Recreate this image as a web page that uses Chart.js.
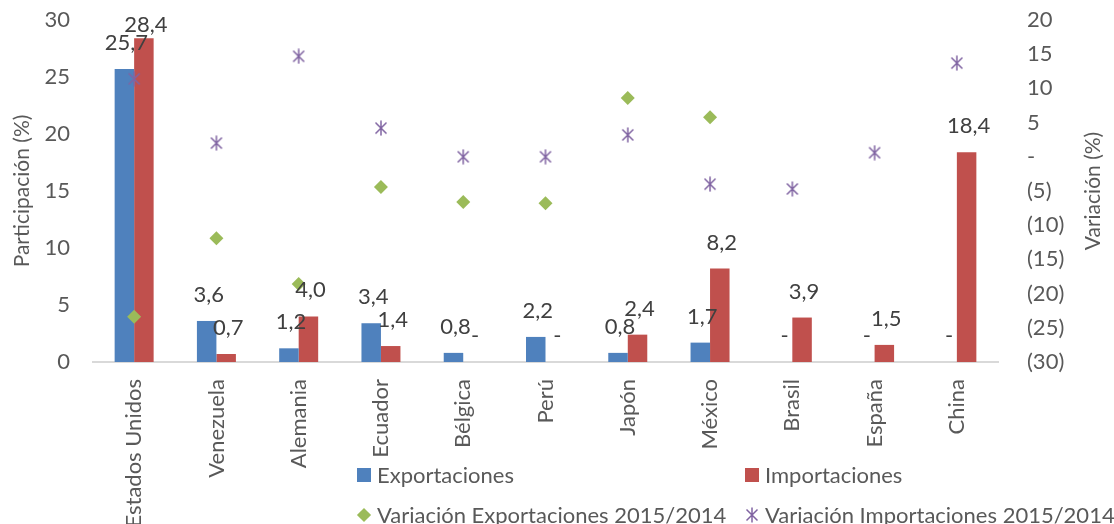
<!DOCTYPE html>
<html>
<head>
<meta charset="utf-8">
<script src="https://cdn.jsdelivr.net/npm/chart.js@4"></script>
<style>
  body { margin: 0; background: #fff; }
  #wrap { position: relative; width: 1114px; height: 524px; overflow: hidden; }
  .leg { position: absolute; height: 24px; display: flex; align-items: center; font-family: Lato, sans-serif; font-size: 22px; color: #595959; white-space: nowrap; line-height: 22px; }
  .leg .mk { display: inline-block; flex: none; margin-right: 6px; }
</style>
</head>
<body>
<div id="wrap">
  <canvas id="grafico" width="1114" height="524"></canvas>
</div>
<script>
const categorias = ['Estados Unidos', 'Venezuela', 'Alemania', 'Ecuador', 'Bélgica', 'Perú', 'Japón', 'México', 'Brasil', 'España', 'China'];
const exportaciones = [25.7, 3.6, 1.2, 3.4, 0.8, 2.2, 0.8, 1.7, 0, 0, 0];
const importaciones = [28.4, 0.7, 4.0, 1.4, 0, 0, 2.4, 8.2, 3.9, 1.5, 18.4];
const varExportaciones = [-23.4, -11.9, -18.6, -4.4, -6.6, -6.8, 8.6, 5.8, null, null, null];
const varImportaciones = [11.4, 2.0, 14.7, 4.2, 0.0, 0.0, 3.2, -4.0, -4.7, 0.6, 13.7];

const azul = '#4F81BD', rojo = '#C0504D', verde = '#9BBB59', morado = '#8064A2';
const fuente = 'Lato, sans-serif';

// asterisco sin brazo horizontal, como el marcador de Excel
function estrella() {
    const c = document.createElement('canvas');
    c.width = 14; c.height = 16;
    const g = c.getContext('2d');
    g.strokeStyle = morado;
    g.lineWidth = 1.5;
    g.beginPath();
    g.moveTo(7, 0.5); g.lineTo(7, 15.5);
    g.moveTo(1.5, 2.5); g.lineTo(12.5, 13.5);
    g.moveTo(12.5, 2.5); g.lineTo(1.5, 13.5);
    g.stroke();
    return c;
}

function fmtBarra(v) {
    return v === 0 ? '-' : v.toFixed(1).replace('.', ',');
}

const etiquetas = {
    id: 'etiquetas',
    afterDatasetsDraw(chart) {
        const ctx = chart.ctx;
        ctx.save();
        ctx.font = '22px ' + fuente;
        ctx.fillStyle = '#404040';
        ctx.textAlign = 'center';
        ctx.textBaseline = 'middle';
        chart.data.datasets.forEach((ds, i) => {
            if (ds.type !== 'bar') return;
            chart.getDatasetMeta(i).data.forEach((bar, j) => {
                let y = Math.max(bar.y - 26, 25);
                ctx.fillText(fmtBarra(ds.data[j]), bar.x + 2, y);
            });
        });
        ctx.restore();
    }
};

// titulo del eje derecho, leido de abajo hacia arriba
const tituloDerecho = {
    id: 'tituloDerecho',
    afterDraw(chart) {
        const a = chart.chartArea, ctx = chart.ctx;
        ctx.save();
        ctx.translate(1093, (a.top + a.bottom) / 2);
        ctx.rotate(-Math.PI / 2);
        ctx.font = '21px ' + fuente;
        ctx.fillStyle = '#595959';
        ctx.textAlign = 'center';
        ctx.textBaseline = 'middle';
        ctx.fillText('Variación (%)', 0, 0);
        ctx.restore();
    }
};

const ctx = document.getElementById('grafico').getContext('2d');
const grafico = new Chart(ctx, {
    data: {
        labels: categorias,
        datasets: [
            {type: 'bar', label: 'Exportaciones', data: exportaciones, backgroundColor: azul, yAxisID: 'y', order: 2,
             categoryPercentage: 0.474, barPercentage: 1},
            {type: 'bar', label: 'Importaciones', data: importaciones, backgroundColor: rojo, yAxisID: 'y', order: 2,
             categoryPercentage: 0.474, barPercentage: 1},
            {type: 'line', label: 'Variación Exportaciones 2015/2014', data: varExportaciones, yAxisID: 'y2', order: 0,
             showLine: false, pointStyle: 'rectRot', pointRadius: 7, pointHoverRadius: 7,
             backgroundColor: verde, borderColor: verde, pointBorderWidth: 0},
            {type: 'line', label: 'Variación Importaciones 2015/2014', data: varImportaciones, yAxisID: 'y2', order: 0,
             showLine: false, pointStyle: estrella(), pointRadius: 7,
             backgroundColor: morado, borderColor: morado}
        ]
    },
    options: {
        responsive: false,
        animation: false,
        layout: {autoPadding: false, padding: {top: 20, left: 0, right: 0, bottom: 0}},
        plugins: {legend: {display: false}, tooltip: {enabled: false}},
        scales: {
            x: {
                grid: {display: false},
                border: {display: true, color: '#D9D9D9', width: 2},
                ticks: {color: '#595959', font: {family: fuente, size: 22}, minRotation: 90, maxRotation: 90,
                        autoSkip: false, padding: 9},
                afterFit: s => { s.height = 162; }
            },
            y: {
                position: 'left', min: 0, max: 30,
                grid: {display: false, drawTicks: false},
                border: {display: false},
                ticks: {stepSize: 5, color: '#595959', font: {family: fuente, size: 22}, padding: 23},
                title: {display: true, text: 'Participación (%)', color: '#595959',
                        font: {family: fuente, size: 21}, padding: {top: 10, bottom: 0}},
                afterFit: s => { s.width = 93; s.paddingTop = 0; s.paddingBottom = 0; }
            },
            y2: {
                position: 'right', min: -30, max: 20,
                grid: {display: false, drawTicks: false},
                border: {display: false},
                ticks: {stepSize: 5, color: '#595959', font: {family: fuente, size: 22}, padding: 29,
                        callback: v => v === 0 ? '-' : (v < 0 ? '(' + (-v) + ')' : String(v))},
                afterFit: s => { s.width = 116; s.paddingTop = 0; s.paddingBottom = 0; }
            }
        }
    },
    plugins: [etiquetas, tituloDerecho]
});

// leyenda en dos filas y dos columnas, como en el original
const wrap = document.getElementById('wrap');
const filas = [475, 515], columnas = [357, 745];
grafico.data.datasets.forEach((ds, i) => {
    const d = document.createElement('div');
    d.className = 'leg';
    d.style.left = columnas[i % 2] + 'px';
    d.style.top = (filas[Math.floor(i / 2)] - 12) + 'px';
    let mk;
    if (i < 2) {
        mk = document.createElement('span');
        mk.style.cssText = 'width:14px;height:14px;background:' + ds.backgroundColor;
    } else if (i === 2) {
        mk = document.createElement('span');
        mk.style.cssText = 'width:10px;height:10px;margin-left:2px;margin-right:8px;transform:rotate(45deg);background:' + verde;
    } else {
        mk = estrella();
    }
    mk.classList.add('mk');
    d.appendChild(mk);
    d.appendChild(document.createTextNode(ds.label));
    wrap.appendChild(d);
});
</script>
</body>
</html>
